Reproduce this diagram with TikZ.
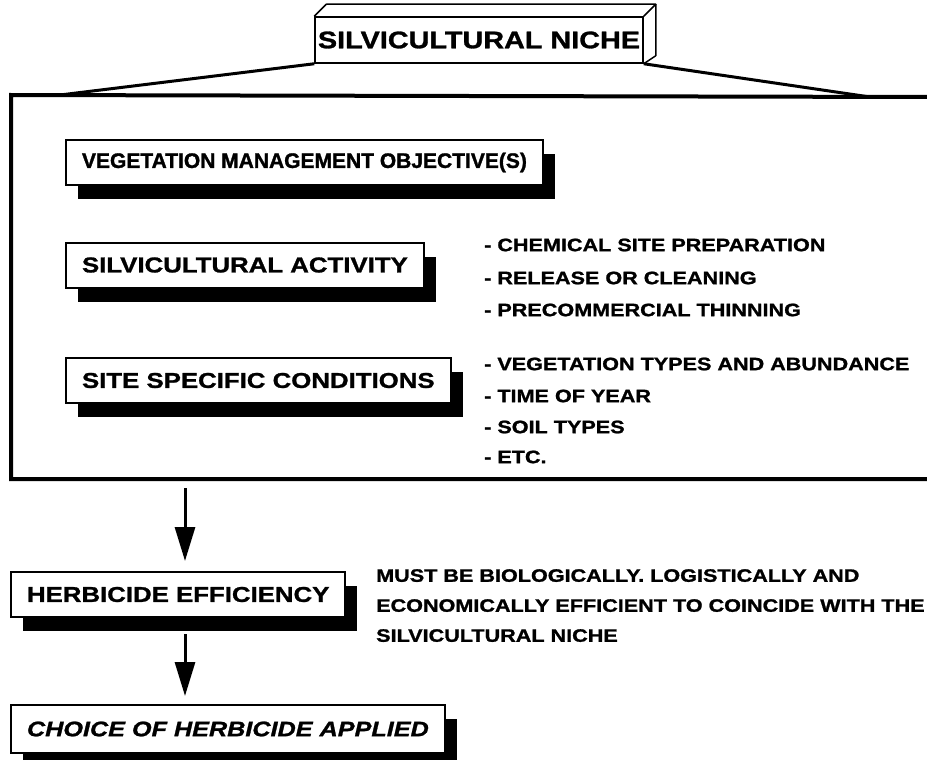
\documentclass[tikz,border=0pt]{standalone}
\usepackage{fontspec}
\setmainfont{Liberation Sans}
\newfontfamily\widesans[FakeStretch=1.2,FakeBold=1.2]{Liberation Sans}
\newfontfamily\plainsans[FakeBold=1.4]{Liberation Sans}
\usetikzlibrary{arrows.meta,shadows}

\tikzset{
  tagbox/.style={draw, line width=2pt, fill=white, minimum height=45pt,
    inner xsep=16pt, anchor=west,
    font=\widesans\bfseries\fontsize{21.5}{26}\selectfont,
    drop shadow={shadow xshift=12pt, shadow yshift=-14pt, fill=black, opacity=1}},
  listtext/.style={anchor=west, inner sep=0pt,
    font=\widesans\bfseries\fontsize{18}{22}\selectfont},
  flow/.style={-{Triangle[width=20pt,length=34pt]}, line width=3pt},
  frame/.style={line width=4pt, line join=miter}
}

\begin{document}
\begin{tikzpicture}[x=1pt,y=-1pt]
  \useasboundingbox (0,0) rectangle (927,760);
  % sloped lines from the title block down to the frame
  \coordinate (fl) at (60,95);
  \coordinate (fr) at (870,97);
  % frame, open on the right
  \draw[frame] (927,97) -- (11,95) -- (11,479) -- (927,479);
  \coordinate (fb) at (185,479);

  % title block, drawn as a bar seen from above
  \node[draw, line width=1.5pt, fill=white, minimum width=328pt, minimum height=46pt,
    inner sep=0pt, font=\widesans\bfseries\fontsize{24}{28}\selectfont]
    (niche) at (479,40) {SILVICULTURAL NICHE};
  \draw[line width=1.5pt, line join=round] (niche.north west) -- ++(12,-12)
    -- ([xshift=12pt,yshift=12pt]niche.north east) -- (niche.north east);
  \draw[line width=1.5pt, line join=round] ([xshift=12pt,yshift=12pt]niche.north east)
    -- ([xshift=12pt,yshift=8pt]niche.south east) -- (niche.south east);
  \draw[line width=3pt] (niche.south west) -- (fl);
  \draw[line width=3pt] (niche.south east) -- (fr);

  % boxes inside the frame
  \node[tagbox, font=\plainsans\bfseries\fontsize{21}{26}\selectfont]
    (objective) at (65,162.5) {VEGETATION MANAGEMENT OBJECTIVE(S)};
  \node[tagbox] (activity) at (65,265) {SILVICULTURAL ACTIVITY};
  \node[tagbox] (site) at (65,380.5) {SITE SPECIFIC CONDITIONS};

  % lists beside the boxes
  \node[listtext] (act1) at (484,245) {- CHEMICAL SITE PREPARATION};
  \node[listtext] (act2) at (484,278) {- RELEASE OR CLEANING};
  \node[listtext] (act3) at (484,310) {- PRECOMMERCIAL THINNING};
  \node[listtext] (site1) at (484,364) {- VEGETATION TYPES AND ABUNDANCE};
  \node[listtext] (site2) at (484,396) {- TIME OF YEAR};
  \node[listtext] (site3) at (484,427) {- SOIL TYPES};
  \node[listtext] (site4) at (484,457) {- ETC.};

  % lower chain
  \node[tagbox] (efficiency) at (10,594.5) {HERBICIDE EFFICIENCY};
  \node[listtext, anchor=north west, align=left,
    font=\widesans\bfseries\fontsize{18}{30}\selectfont]
    (must) at (376,569) {MUST BE BIOLOGICALLY. LOGISTICALLY AND\\
    ECONOMICALLY EFFICIENT TO COINCIDE WITH THE\\
    SILVICULTURAL NICHE};
  \node[tagbox, minimum height=48pt, font=\widesans\bfseries\itshape\fontsize{21}{26}\selectfont]
    (choice) at (10,729) {CHOICE OF HERBICIDE APPLIED};

  \draw[flow, shorten <=9pt, shorten >=10pt] (fb) -- (efficiency.north -| fb);
  \draw[flow, shorten <=16pt, shorten >=8pt] (efficiency.south -| fb) -- (choice.north -| fb);
\end{tikzpicture}
\end{document}
